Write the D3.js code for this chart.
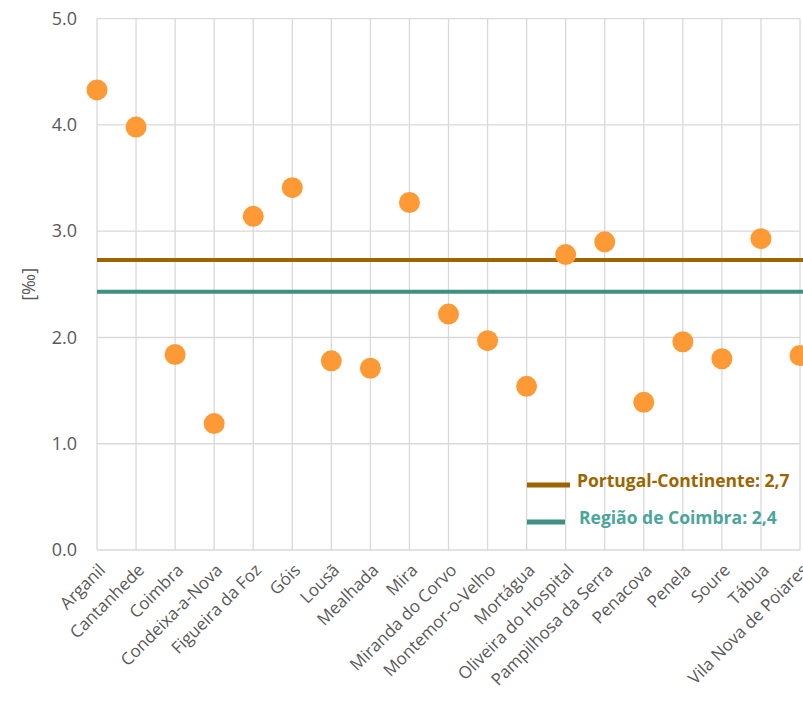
<!DOCTYPE html>
<meta charset="utf-8">
<style>
body {margin: 0; background: #fff;}
.tick text {fill: #595959;}
</style>
<html>
<body>
<script src="https://d3js.org/d3.v7.min.js"></script>
<script>
var width = 803,
    height = 701;

var concelhos = ["Arganil", "Cantanhede", "Coimbra", "Condeixa-a-Nova", "Figueira da Foz", "Góis",
  "Lousã", "Mealhada", "Mira", "Miranda do Corvo", "Montemor-o-Velho", "Mortágua",
  "Oliveira do Hospital", "Pampilhosa da Serra", "Penacova", "Penela", "Soure", "Tábua",
  "Vila Nova de Poiares"];
var valores = [4.33, 3.98, 1.84, 1.19, 3.14, 3.41, 1.78, 1.71, 3.27, 2.22, 1.97, 1.54,
  2.78, 2.90, 1.39, 1.96, 1.80, 2.93, 1.83];
var yTicks = [0, 1, 2, 3, 4, 5];
var referencias = ["Portugal-Continente: 2,7", "Região de Coimbra: 2,4"];
var refValores = [2.73, 2.43];
var refCores = ["#9c6500", "#3f8f85"];
var refTextoCores = ["#9c6500", "#4aa59b"];

var margin = {top: 18.7, right: 3, bottom: 151, left: 97};
var font = "'Open Sans', sans-serif";

var svg = d3.select("body").append("svg")
    .attr("width", width)
    .attr("height", height);

var x = d3.scalePoint()
    .domain(concelhos)
    .range([margin.left, width - margin.right])
    .padding(0);

var y = d3.scaleLinear()
    .domain([0, 5])
    .range([height - margin.bottom, margin.top]);

// grelha horizontal
svg.append("g")
  .selectAll("line")
  .data(yTicks)
  .enter().append("line")
    .attr("x1", margin.left).attr("x2", width - margin.right)
    .attr("y1", d => y(d)).attr("y2", d => y(d))
    .attr("stroke", "#d9d9d9").attr("stroke-width", 1.3);

// grelha vertical
svg.append("g")
  .selectAll("line")
  .data(concelhos)
  .enter().append("line")
    .attr("x1", d => x(d)).attr("x2", d => x(d))
    .attr("y1", y(0)).attr("y2", y(5))
    .attr("stroke", "#d9d9d9").attr("stroke-width", 1.3);

// eixo y
var yAxis = svg.append("g")
    .attr("transform", "translate(" + margin.left + ",0)")
    .call(d3.axisLeft(y).tickValues(yTicks).tickFormat(d3.format(".1f")).tickSize(0).tickPadding(20));
yAxis.select(".domain").remove();
yAxis.selectAll("text").style("font-family", font).style("font-size", "18px");

svg.append("text")
    .attr("transform", "translate(29," + ((y(2) + y(3)) / 2) + ") rotate(-90)")
    .attr("text-anchor", "middle")
    .attr("dy", "0.35em")
    .style("font-family", font).style("font-size", "18px")
    .attr("fill", "#595959")
    .text("[‰]");

// eixo x
svg.append("g")
  .selectAll("text")
  .data(concelhos)
  .enter().append("text")
    .attr("transform", d => "translate(" + (x(d) + 5) + "," + (y(0) + 17) + ") rotate(-45)")
    .attr("text-anchor", "end")
    .attr("dy", "0.35em")
    .style("font-family", font).style("font-size", "17px")
    .attr("fill", "#595959")
    .text(d => d);

// linhas de referência
svg.append("g")
  .selectAll("line")
  .data(refValores)
  .enter().append("line")
    .attr("x1", margin.left).attr("x2", width)
    .attr("y1", d => y(d)).attr("y2", d => y(d))
    .attr("stroke", (d, i) => refCores[i]).attr("stroke-width", 4);

// pontos
svg.append("g")
  .selectAll("circle")
  .data(valores)
  .enter().append("circle")
    .attr("cx", (d, i) => x(concelhos[i]))
    .attr("cy", d => y(d))
    .attr("r", 10.5)
    .attr("fill", "#fe9a35");

// legenda
var leg = svg.append("g")
  .selectAll("g")
  .data(referencias)
  .enter().append("g")
    .attr("transform", (d, i) => "translate(527," + (485 + i * 37) + ")");
leg.append("line")
    .attr("x1", 0).attr("x2", (d, i) => i === 0 ? 43 : 38)
    .attr("stroke", (d, i) => refCores[i]).attr("stroke-width", 5);
leg.append("text")
    .attr("x", (d, i) => i === 0 ? 50 : 52)
    .attr("y", -4)
    .attr("dy", "0.35em")
    .style("font-family", font).style("font-size", "17.5px").style("font-weight", "bold")
    .attr("fill", (d, i) => refTextoCores[i])
    .text(d => d);
</script>
</body>
</html>
